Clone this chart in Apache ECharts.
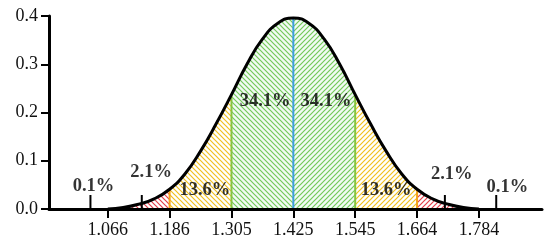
<!DOCTYPE html>
<html><head><meta charset="utf-8">
<script src="https://cdn.jsdelivr.net/npm/echarts@6/dist/echarts.min.js"></script>
<style>html,body{margin:0;padding:0;background:#fff}#c{width:550px;height:248px}</style>
</head><body><div id="c"></div>
<script>
// ---- data ----
const zValues = [-3, -2.75, -2.5, -2.25, -2, -1.75, -1.5, -1.25, -1, -0.75, -0.5, -0.25, 0, 0.25, 0.5, 0.75, 1, 1.25, 1.5, 1.75, 2, 2.25, 2.5, 2.75, 3];
const density = [0.000, 0.003, 0.010, 0.021, 0.041, 0.073, 0.120, 0.176, 0.237, 0.300, 0.352, 0.385, 0.396, 0.385, 0.352, 0.300, 0.237, 0.176, 0.120, 0.073, 0.041, 0.021, 0.010, 0.003, 0.000];
const tickPositions = [-3, -2, -1, 0, 1, 2, 3];
const tickLabels = ['1.066', '1.186', '1.305', '1.425', '1.545', '1.664', '1.784'];
const regionBounds = [[-2.75, -2], [-2, -1], [-1, 0], [0, 1], [1, 2], [2, 2.75]];
const guideLinePositions = [-2, -1, 0, 1, 2];
const percentLabels = ['0.1%', '2.1%', '13.6%', '34.1%', '34.1%', '13.6%', '2.1%', '0.1%'];
const markerTickPositions = [-3.28, -2.45, 2.45, 3.28];

// ---- layout (annotation anchors, not data) ----
const labelAnchors = [[-3.23, 0.048], [-2.30, 0.076], [-1.43, 0.039], [-0.457, 0.224], [0.528, 0.224], [1.50, 0.039], [2.56, 0.073], [3.46, 0.045]];
const markerTickHeight = 0.029;

function hatch(color, dir, bg) {
  const s = 5, c = document.createElement('canvas'); c.width = s; c.height = s;
  const g = c.getContext('2d');
  g.fillStyle = bg || '#fff'; g.fillRect(0, 0, s, s);
  g.strokeStyle = color; g.lineWidth = 1.2; g.beginPath();
  if (dir === 'b') {
    g.moveTo(-1, -1); g.lineTo(s + 1, s + 1);
    g.moveTo(-1, s - 1); g.lineTo(1, s + 1);
    g.moveTo(s - 1, -1); g.lineTo(s + 1, 1);
  } else {
    g.moveTo(-1, s + 1); g.lineTo(s + 1, -1);
    g.moveTo(-1, 1); g.lineTo(1, -1);
    g.moveTo(s - 1, s + 1); g.lineTo(s + 1, s - 1);
  }
  g.stroke();
  return { image: c, repeat: 'repeat' };
}
const RED = '#e2404a', YEL = '#f0c020', GRN = '#74c95a';
const patterns = [hatch(RED, 'b'), hatch(YEL, 'b'), hatch(GRN, 'b', '#f2fbf4'), hatch(GRN, 'f', '#f2fbf4'), hatch(YEL, 'f'), hatch(RED, 'f')];
const guideColors = { '-2': '#f5a31a', '-1': '#86c440', '0': '#3d9ee0', '1': '#86c440', '2': '#f5a31a' };

const pts = zValues.map((z, k) => [z, density[k]]);
const dens = z => density[zValues.indexOf(z)];

const series = [];
regionBounds.forEach((b, i) => {
  series.push({
    type: 'line', smooth: true, symbol: 'none', silent: true, z: 1,
    lineStyle: { width: 0 }, areaStyle: { color: patterns[i], opacity: 1 },
    data: pts.filter(p => p[0] >= b[0] - 1e-9 && p[0] <= b[1] + 1e-9)
  });
});
guideLinePositions.forEach(z => {
  series.push({
    type: 'line', symbol: 'none', silent: true, z: 2,
    lineStyle: { width: 2, color: guideColors[String(z)] },
    data: [[z, 0], [z, dens(z)]]
  });
});
series.push({
  type: 'line', smooth: true, symbol: 'none', silent: true, z: 3,
  lineStyle: { width: 3, color: '#000' }, data: pts
});
series.push({
  type: 'custom', z: 4, silent: true,
  renderItem: (p, api) => {
    const a = api.coord([api.value(0), 0]), b = api.coord([api.value(0), api.value(1)]);
    return { type: 'line', shape: { x1: a[0], y1: a[1], x2: b[0], y2: b[1] }, style: { stroke: '#000', lineWidth: 2 } };
  },
  data: markerTickPositions.map(z => [z, markerTickHeight])
});
series.push({
  type: 'scatter', symbolSize: 1, z: 5, silent: true,
  itemStyle: { color: 'rgba(0,0,0,0)' },
  label: { show: true, position: 'inside', fontFamily: 'Liberation Serif', fontWeight: 'bold', fontSize: 18.5, color: '#000' },
  data: labelAnchors.map((p, i) => ({ value: p, label: { formatter: percentLabels[i] } }))
});

const chart = echarts.init(document.getElementById('c'), null, { renderer: 'canvas' });
chart.setOption({
  animation: false,
  grid: { left: 49, right: 8, top: 16, bottom: 39, containLabel: false },
  xAxis: {
    type: 'value', min: -3.95, max: 4.02, z: 10,
    axisLine: { onZero: true, lineStyle: { color: '#000', width: 3 } },
    axisTick: { show: true, customValues: tickPositions, length: 9, lineStyle: { color: '#000', width: 2 } },
    axisLabel: { customValues: tickPositions, margin: 12, fontFamily: 'Liberation Serif', fontSize: 18, color: '#111',
      formatter: v => tickLabels[tickPositions.indexOf(Math.round(v))] || '' },
    splitLine: { show: false }
  },
  yAxis: {
    type: 'value', min: 0, max: 0.4, interval: 0.1, z: 10,
    axisLine: { show: true, onZero: false, lineStyle: { color: '#000', width: 3 } },
    axisTick: { show: true, length: 8, lineStyle: { color: '#000', width: 2 } },
    axisLabel: { margin: 11, fontFamily: 'Liberation Serif', fontSize: 18, color: '#111', formatter: v => v.toFixed(1) },
    splitLine: { show: false }
  },
  series: series
});
</script></body></html>
